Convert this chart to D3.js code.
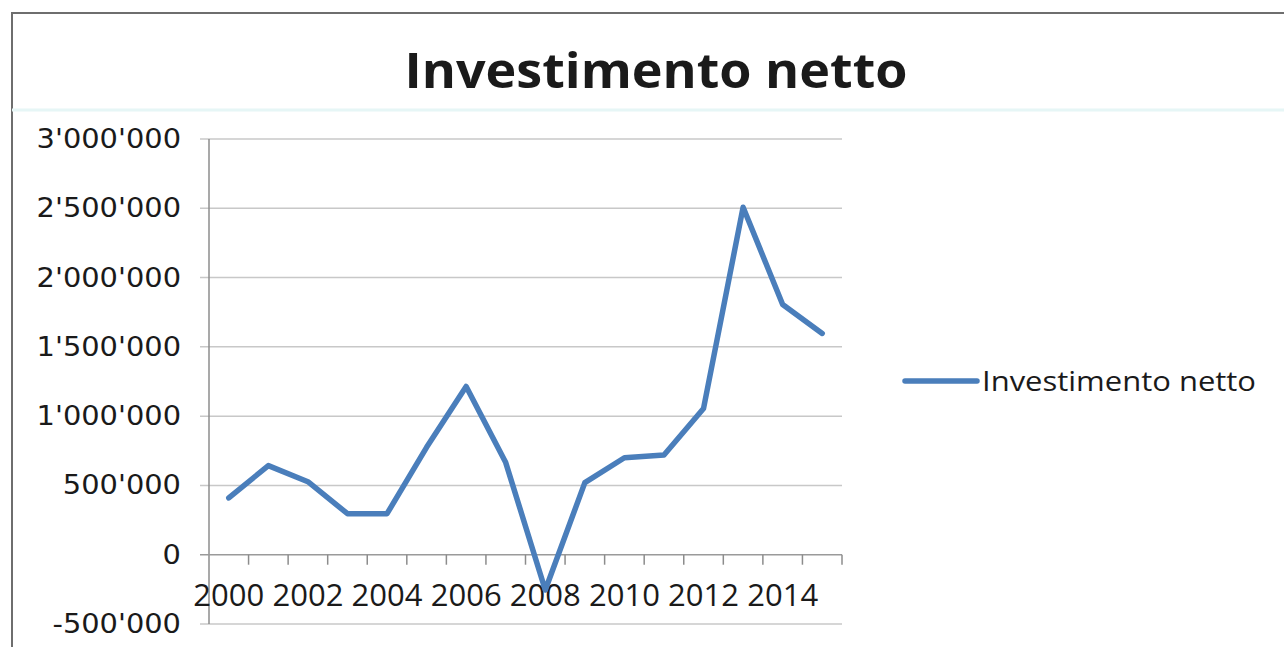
<!DOCTYPE html>
<html>
<head>
<meta charset="utf-8">
<script src="https://cdn.jsdelivr.net/npm/d3@7"></script>
<style>
  html, body { margin: 0; padding: 0; background: #fff; }
  svg { display: block; }
</style>
</head>
<body>
<svg class="svg"></svg>
<script>
const years = ['2000', '2001', '2002', '2003', '2004', '2005', '2006', '2007',
  '2008', '2009', '2010', '2011', '2012', '2013', '2014', '2015'];
const investimento = [410000, 643000, 527000, 296000, 296000, 775000, 1214000, 665000,
  -255000, 520000, 700000, 720000, 1055000, 2507000, 1806000, 1597000];
const yTicks = [-500000, 0, 500000, 1000000, 1500000, 2000000, 2500000, 3000000];
const xLabels = ['2000', '2002', '2004', '2006', '2008', '2010', '2012', '2014'];
const seriesName = 'Investimento netto';
const title = 'Investimento netto';

const width = 1284;
const height = 647;

const svg = d3.select('.svg')
  .attr('width', width)
  .attr('height', height);

// scanned page frame
svg.append('path')
  .attr('d', `M 12 ${height} L 12 13 L ${width} 13`)
  .attr('fill', 'none')
  .attr('stroke', '#6e6e6e')
  .attr('stroke-width', 2);
svg.append('line')
  .attr('x1', 12).attr('x2', width)
  .attr('y1', 110).attr('y2', 110)
  .attr('stroke', '#e6f6f6')
  .attr('stroke-width', 3);

const fmt = d3.formatLocale({
  decimal: '.', thousands: "'", grouping: [3], currency: ['', ''], minus: '-'
}).format(',');

// stretch text horizontally (the scan is wider than tall)
function stretch(sel, k) {
  sel.each(function() {
    const w = this.getComputedTextLength();
    d3.select(this)
      .attr('textLength', w * k)
      .attr('lengthAdjust', 'spacingAndGlyphs');
  });
}

const x = d3.scaleBand().domain(years).range([209, 842]);
const y = d3.scaleLinear().domain([-500000, 3000000]).range([624, 139]);
const cx = d => x(d) + x.bandwidth() / 2;

// gridlines
svg.append('g')
  .selectAll('line')
  .data(yTicks.filter(d => d !== 0))
  .join('line')
  .attr('x1', 200).attr('x2', 842)
  .attr('y1', d => y(d)).attr('y2', d => y(d))
  .attr('stroke', '#c8c8c8')
  .attr('stroke-width', 1.5);

// y axis labels
const yLab = svg.append('g')
  .selectAll('text')
  .data(yTicks)
  .join('text')
  .attr('x', 181)
  .attr('y', d => y(d) + 9)
  .attr('text-anchor', 'end')
  .attr('font-family', 'DejaVu Sans, Verdana, sans-serif')
  .attr('font-size', 26)
  .attr('fill', '#1a1a1a')
  .text(d => fmt(d));
stretch(yLab, 1.11);

// vertical axis
svg.append('line')
  .attr('x1', 209).attr('x2', 209)
  .attr('y1', y(3000000)).attr('y2', y(-500000))
  .attr('stroke', '#8c8c8c')
  .attr('stroke-width', 1.5);

// horizontal axis at zero
svg.append('line')
  .attr('x1', 200).attr('x2', 842)
  .attr('y1', y(0)).attr('y2', y(0))
  .attr('stroke', '#9a9a9a')
  .attr('stroke-width', 1.5);

svg.append('g')
  .selectAll('line')
  .data(years)
  .join('line')
  .attr('x1', d => x(d) + x.bandwidth()).attr('x2', d => x(d) + x.bandwidth())
  .attr('y1', y(0)).attr('y2', y(0) + 10)
  .attr('stroke', '#8c8c8c')
  .attr('stroke-width', 1.5);

// x labels
svg.append('g')
  .selectAll('text')
  .data(xLabels)
  .join('text')
  .attr('x', d => cx(d))
  .attr('y', 606)
  .attr('text-anchor', 'middle')
  .attr('font-family', 'Open Sans, sans-serif')
  .attr('font-size', 31)
  .attr('fill', '#1a1a1a')
  .text(d => d);

// series line
const line = d3.line()
  .x((d, i) => cx(years[i]))
  .y(d => y(d));

svg.append('path')
  .datum(investimento)
  .attr('d', line)
  .attr('fill', 'none')
  .attr('stroke', '#4a7ebb')
  .attr('stroke-width', 5.5)
  .attr('stroke-linejoin', 'round')
  .attr('stroke-linecap', 'round');

// title
svg.append('text')
  .attr('x', 656)
  .attr('y', 88)
  .attr('text-anchor', 'middle')
  .attr('font-family', 'Open Sans, sans-serif')
  .attr('font-weight', 700)
  .attr('font-size', 49)
  .attr('fill', '#1a1a1a')
  .attr('textLength', 503)
  .attr('lengthAdjust', 'spacingAndGlyphs')
  .text(title);

// legend
const legend = svg.append('g').attr('transform', 'translate(905,381)');
legend.append('line')
  .attr('x1', 0).attr('x2', 72)
  .attr('y1', 0).attr('y2', 0)
  .attr('stroke', '#4a7ebb')
  .attr('stroke-width', 5.5)
  .attr('stroke-linecap', 'round');
legend.append('text')
  .attr('x', 77)
  .attr('y', 10)
  .attr('font-family', 'Open Sans, sans-serif')
  .attr('font-size', 28)
  .attr('fill', '#1a1a1a')
  .attr('textLength', 274)
  .attr('lengthAdjust', 'spacingAndGlyphs')
  .text(seriesName);
</script>
</body>
</html>
